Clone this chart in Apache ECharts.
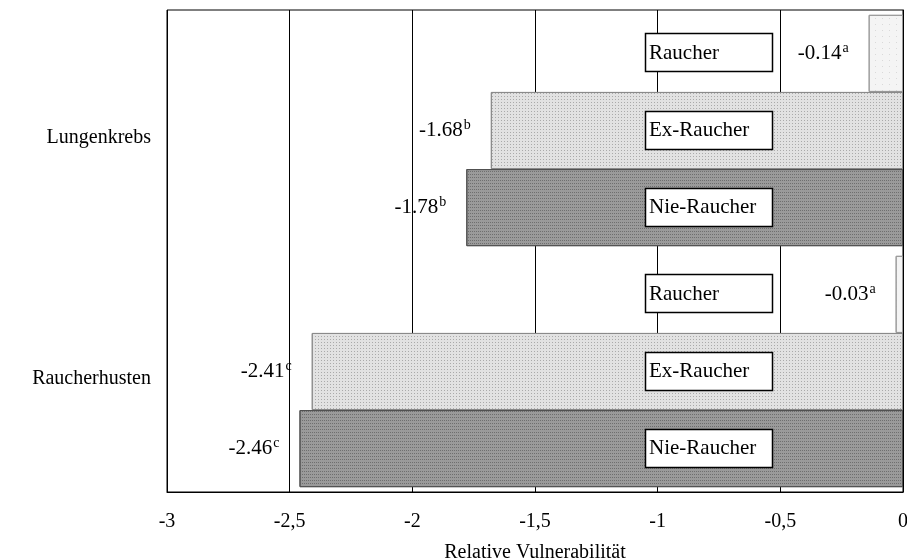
<!DOCTYPE html>
<html>
<head>
<meta charset="utf-8">
<script src="https://cdn.jsdelivr.net/npm/echarts@6/dist/echarts.min.js"></script>
<style>html,body{margin:0;padding:0;background:#fff}#c{width:907px;height:560px}</style>
</head>
<body>
<div id="c"></div>
<script>
var categories = ['Lungenkrebs', 'Raucherhusten'];
var seriesNames = ['Raucher', 'Ex-Raucher', 'Nie-Raucher'];
var raucher = [-0.14, -0.03];
var exRaucher = [-1.68, -2.41];
var nieRaucher = [-1.78, -2.46];
var raucherSup = ['a', 'a'];
var exSup = ['b', 'c'];
var nieSup = ['b', 'c'];
var xTicks = ['-3', '-2,5', '-2', '-1,5', '-1', '-0,5', '0'];

var FONT = 'Liberation Serif';
var CAT_GAP = 0.04;

function valLabel(sups) {
  return {
    show: true, position: 'left', distance: 20,
    formatter: function (p) {
      return '{v|' + p.value.toFixed(2) + '}{s|' + sups[p.dataIndex] + '}';
    },
    rich: {
      v: { fontFamily: FONT, fontSize: 21, color: '#000' },
      s: { fontFamily: FONT, fontSize: 14, color: '#000', padding: [0, 0, 11, 1] }
    }
  };
}

var boxData = [];
categories.forEach(function (c, i) {
  seriesNames.forEach(function (n, j) { boxData.push([0, c, j]); });
});

var chart = echarts.init(document.getElementById('c'));
chart.setOption({
  animation: false,
  backgroundColor: '#fff',
  grid: { left: 167, right: 4, top: 10, bottom: 68, show: true, borderColor: '#000', borderWidth: 1,
    containLabel: false, outerBoundsMode: 'none' },
  xAxis: {
    type: 'value', min: -3, max: 0, interval: 0.5,
    name: 'Relative Vulnerabilität', nameLocation: 'middle', nameGap: 51,
    nameTextStyle: { fontFamily: FONT, fontSize: 20, color: '#000' },
    axisLine: { show: true, lineStyle: { color: '#000' } },
    axisTick: { show: false },
    splitLine: { show: true, lineStyle: { color: '#000', width: 1 } },
    axisLabel: {
      fontFamily: FONT, fontSize: 20, color: '#000', margin: 20,
      formatter: function (v) { return xTicks[Math.round((v + 3) / 0.5)]; }
    }
  },
  yAxis: {
    type: 'category', data: categories, inverse: true,
    axisLine: { show: true, lineStyle: { color: '#000' } },
    axisTick: { show: false },
    axisLabel: { fontFamily: FONT, fontSize: 20, color: '#000', margin: 16, verticalAlign: 'top', lineHeight: 14 }
  },
  series: [
    { name: seriesNames[0], type: 'bar', data: raucher, barGap: '0%', barCategoryGap: (CAT_GAP * 100) + '%',
      itemStyle: { color: '#f4f4f4', borderColor: '#9a9a9a', borderWidth: 1,
        decal: { symbol: 'rect', symbolSize: 0.6, dashArrayX: [[1, 6]], dashArrayY: [1, 5], color: '#9a9a9a', rotation: 0 } },
      label: valLabel(raucherSup) },
    { name: seriesNames[1], type: 'bar', data: exRaucher, barGap: '0%', barCategoryGap: (CAT_GAP * 100) + '%',
      itemStyle: { color: '#e2e2e2', borderColor: '#8a8a8a', borderWidth: 1,
        decal: { symbol: 'rect', symbolSize: 1, dashArrayX: [[1, 2]], dashArrayY: [1, 2], color: '#aaaaaa', rotation: 0 } },
      label: valLabel(exSup) },
    { name: seriesNames[2], type: 'bar', data: nieRaucher, barGap: '0%', barCategoryGap: (CAT_GAP * 100) + '%',
      itemStyle: { color: '#9a9a9a', borderColor: '#505050', borderWidth: 1,
        decal: { symbol: 'rect', symbolSize: 1, dashArrayX: [[1, 1]], dashArrayY: [1, 2], color: '#6e6e6e', rotation: 0 } },
      label: valLabel(nieSup) },
    {
      type: 'custom', data: boxData, encode: { x: 0, y: 1 }, z: 10,
      renderItem: function (params, api) {
        var cat = api.value(1), j = api.value(2);
        var p = api.coord([-1.05, cat]);
        var band = api.size([0, 1])[1];
        var inner = band * (1 - CAT_GAP);
        var bw = inner / 3;
        var cy = p[1] - inner / 2 + bw * (j + 0.5);
        return {
          type: 'group',
          children: [
            { type: 'rect', shape: { x: Math.round(p[0]) + 0.5, y: Math.round(cy - 20) + 0.5, width: 127, height: 38 },
              style: { fill: '#fff', stroke: '#000', lineWidth: 1.5 } },
            { type: 'text', x: Math.round(p[0]) + 4, y: cy,
              style: { text: seriesNames[j], fontFamily: FONT, fontSize: 21, fill: '#000', align: 'left', verticalAlign: 'middle' } }
          ]
        };
      }
    }
  ]
});
</script>
</body>
</html>
